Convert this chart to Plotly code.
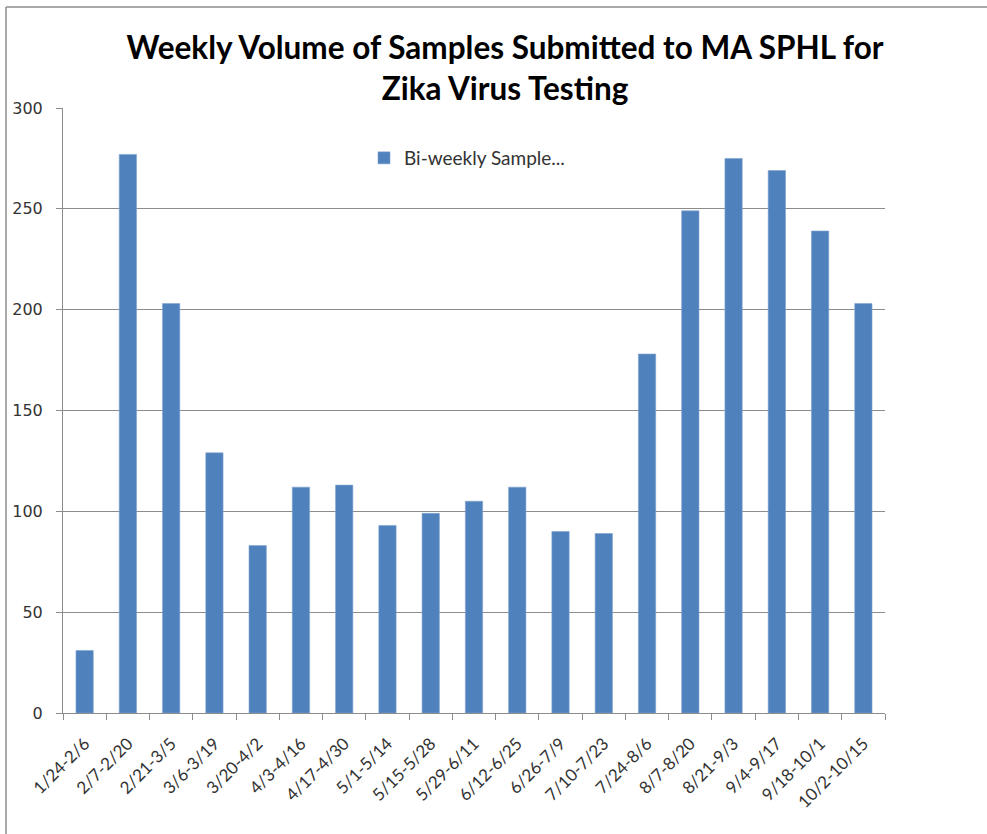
import plotly.graph_objects as go

categories = ["1/24-2/6", "2/7-2/20", "2/21-3/5", "3/6-3/19", "3/20-4/2", "4/3-4/16",
              "4/17-4/30", "5/1-5/14", "5/15-5/28", "5/29-6/11", "6/12-6/25", "6/26-7/9",
              "7/10-7/23", "7/24-8/6", "8/7-8/20", "8/21-9/3", "9/4-9/17", "9/18-10/1",
              "10/2-10/15"]
samples = [31, 277, 203, 129, 83, 112, 113, 93, 99, 105, 112, 90, 89, 178, 249, 275, 269, 239, 203]
series_name = "Bi-weekly Sample..."
y_ticks = [0, 50, 100, 150, 200, 250, 300]

W, H = 987, 834
L, R, T, B = 63, 102, 108, 121
pw, ph = W - L - R, H - T - B

def px_x(p):
    return (p - L) / pw

def px_y(p):
    return (H - B - p) / ph

fig = go.Figure()
fig.add_trace(go.Bar(
    x=categories, y=samples, name=series_name,
    marker=dict(color="#4F81BD", line=dict(color="#7FA3CF", width=0.6)),
))

fig.update_layout(
    width=W, height=H,
    margin=dict(l=L, r=R, t=T, b=B),
    paper_bgcolor="white", plot_bgcolor="white",
    bargap=0.6,
    showlegend=True,
    legend=dict(x=px_x(364), y=px_y(139), xanchor="left", yanchor="top",
                font=dict(family="Lato, Open Sans, sans-serif", size=19, color="#333"),
                bgcolor="rgba(0,0,0,0)", itemwidth=30),
    title=dict(text="<b>Weekly Volume of Samples Submitted to MA SPHL for<br>Zika Virus Testing</b>",
               xref="container", yref="container",
               x=505 / W, xanchor="center", y=1 - 59 / H, yanchor="middle",
               font=dict(family="Lato, Open Sans, sans-serif", size=31.5, color="black")),
    font=dict(family="DejaVu Sans, Verdana, sans-serif", color="#333"),
)

fig.update_xaxes(
    type="category", showline=True, linecolor="#8c8c8c", linewidth=1,
    ticks="outside", tickson="boundaries", ticklen=6, tickcolor="#8c8c8c",
    tickangle=-45, tickfont=dict(family="Lato, Open Sans, sans-serif", size=17, color="#333"),
    ticklabelstandoff=13,
    showgrid=False,
)
fig.update_yaxes(
    range=[0, 300], tickvals=y_ticks, showline=True, linecolor="#8c8c8c", linewidth=1,
    ticks="outside", ticklen=6, tickcolor="#8c8c8c",
    tickfont=dict(family="DejaVu Sans, Verdana, sans-serif", size=16, color="#333"),
    ticklabelstandoff=10,
    showgrid=True, gridcolor="#8c8c8c", gridwidth=1, zeroline=False,
)

# outer chart frame (top and left edges visible)
fig.add_shape(type="line", xref="paper", yref="paper",
              x0=px_x(6), x1=px_x(987), y0=px_y(7), y1=px_y(7),
              line=dict(color="#8c8c8c", width=1.5))
fig.add_shape(type="line", xref="paper", yref="paper",
              x0=px_x(6), x1=px_x(6), y0=px_y(7), y1=px_y(834),
              line=dict(color="#8c8c8c", width=1.5))

fig.write_html("out.html", config={"displayModeBar": False},
               post_script="document.body.style.margin='0';")
